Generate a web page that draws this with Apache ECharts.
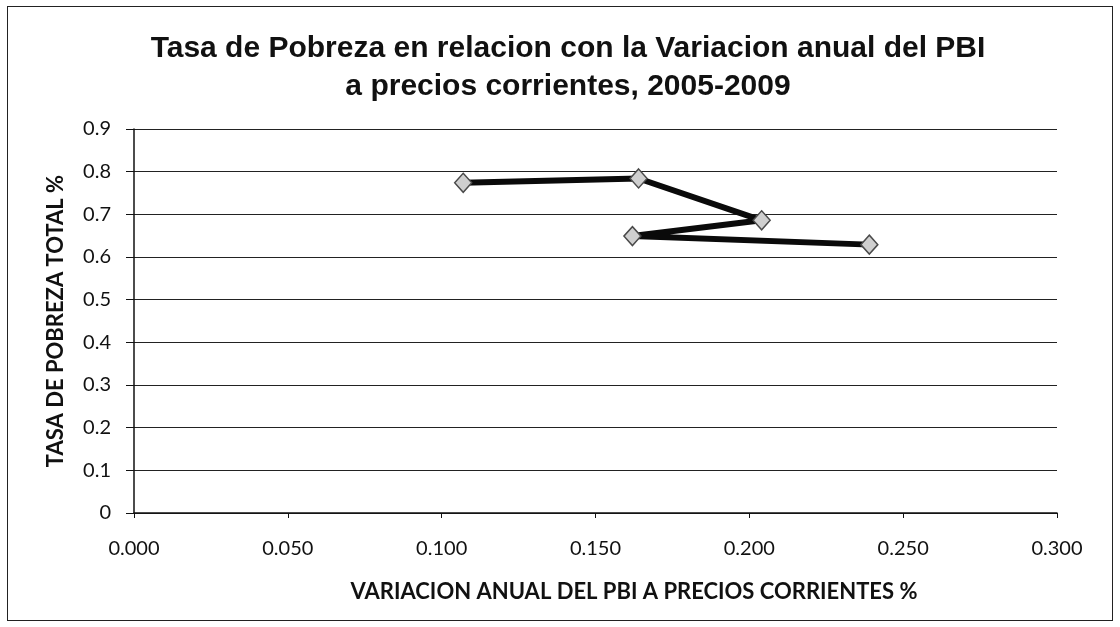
<!DOCTYPE html>
<html>
<head>
<meta charset="utf-8">
<title>Tasa de Pobreza vs Variacion anual del PBI</title>
<script src="https://cdn.jsdelivr.net/npm/echarts@6/dist/echarts.min.js"></script>
<style>
  html, body { margin: 0; padding: 0; background: #fff; }
  #wrap { position: relative; width: 1120px; height: 627px; }
  #frame { position: absolute; left: 7px; top: 6px; width: 1106px; height: 615px; border: 1.5px solid #222; box-sizing: border-box; pointer-events: none; }
  #main { width: 1120px; height: 627px; }
</style>
</head>
<body>
<div id="wrap">
  <div id="main"></div>
  <div id="frame"></div>
</div>
<script>
  // variacion anual del PBI (eje x) y tasa de pobreza (eje y), 2005-2009
  var pbiVariacion = [0.107, 0.164, 0.204, 0.162, 0.239];
  var tasaPobreza  = [0.774, 0.784, 0.686, 0.649, 0.629];

  var puntos = pbiVariacion.map(function (x, i) { return [x, tasaPobreza[i]]; });

  var myChart = echarts.init(document.getElementById('main'));

  var option = {
    animation: false,
    title: {
      text: 'Tasa de Pobreza en relacion con la Variacion anual del PBI\na precios corrientes, 2005-2009',
      left: 563,
      top: 25,
      textAlign: 'center',
      textStyle: {
        fontFamily: 'Liberation Sans',
        fontWeight: 'bold',
        fontSize: 30,
        lineHeight: 38,
        color: '#111'
      }
    },
    grid: { left: 134, right: 63, top: 129, bottom: 114 },
    xAxis: {
      type: 'value',
      min: 0,
      max: 0.3,
      interval: 0.05,
      name: 'VARIACION ANUAL DEL PBI A PRECIOS CORRIENTES %',
      nameLocation: 'middle',
      nameGap: 68,
      nameTextStyle: {
        fontFamily: 'Lato',
        fontWeight: 'bold',
        fontSize: 22,
        color: '#111',
        padding: [0, 0, 0, 77]
      },
      axisLine: { lineStyle: { color: '#111', width: 1.5 } },
      axisTick: { show: true, length: 5, lineStyle: { color: '#111' } },
      axisLabel: {
        margin: 26,
        fontFamily: 'Lato',
        fontSize: 20,
        color: '#111',
        formatter: function (v) { return v.toFixed(3); }
      },
      splitLine: { show: false }
    },
    yAxis: {
      type: 'value',
      min: 0,
      max: 0.9,
      interval: 0.1,
      name: 'TASA DE POBREZA TOTAL %',
      nameLocation: 'middle',
      nameRotate: 90,
      nameGap: 67,
      nameTextStyle: {
        fontFamily: 'Lato',
        fontWeight: 'bold',
        fontSize: 22,
        color: '#111'
      },
      axisLine: { show: true, lineStyle: { color: '#111', width: 1.5 } },
      axisTick: { show: true, length: 8, lineStyle: { color: '#111' } },
      axisLabel: {
        margin: 23,
        fontFamily: 'Lato',
        fontSize: 20,
        color: '#111'
      },
      splitLine: { show: true, lineStyle: { color: '#222', width: 1.2 } }
    },
    series: [{
      type: 'line',
      data: puntos,
      symbol: 'diamond',
      symbolSize: [17, 19],
      lineStyle: { color: '#0a0a0a', width: 6 },
      itemStyle: { color: '#cfcfcf', borderColor: '#4a4a4a', borderWidth: 1.5 },
      z: 3
    }]
  };

  myChart.setOption(option);
</script>
</body>
</html>
